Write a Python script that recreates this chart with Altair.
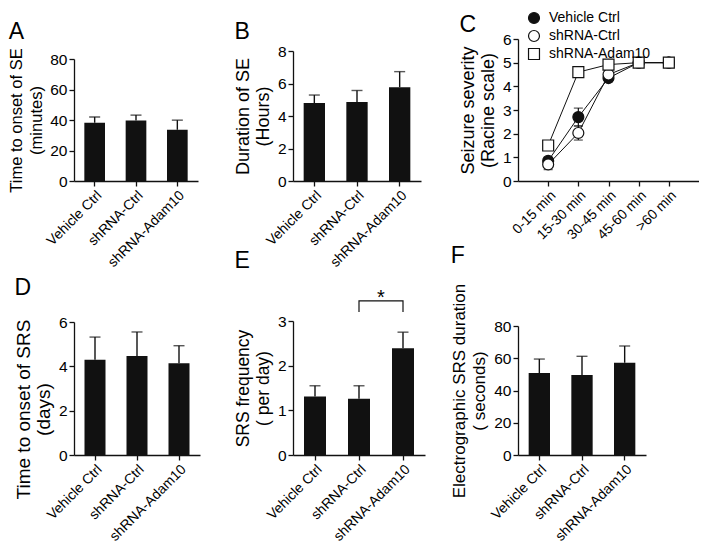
import altair as alt
import pandas as pd

# ---------------- data ----------------
groups = ["Vehicle Ctrl", "shRNA-Ctrl", "shRNA-Adam10"]

onset_se_mean = [38.2, 39.7, 33.6]
onset_se_upper = [42.0, 43.2, 39.9]
duration_se_mean = [4.80, 4.86, 5.77]
duration_se_upper = [5.29, 5.57, 6.73]
onset_srs_mean = [4.30, 4.47, 4.14]
onset_srs_upper = [5.32, 5.55, 4.93]
srs_freq_mean = [1.31, 1.26, 2.39]
srs_freq_upper = [1.55, 1.55, 2.75]
srs_dur_mean = [50.8, 49.6, 57.2]
srs_dur_upper = [59.5, 61.2, 67.6]

time_bins = ["0-15 min", "15-30 min", "30-45 min", "45-60 min", ">60 min"]
sev_vehicle = [0.85, 2.70, 4.35, 5.0, 5.0]
sev_vehicle_sem = [0.15, 0.38, 0.15, 0.0, 0.0]
sev_shctrl = [0.70, 2.03, 4.50, 5.0, 5.0]
sev_shctrl_sem = [0.22, 0.30, 0.12, 0.0, 0.0]
sev_adam = [1.50, 4.60, 4.92, 5.0, 5.0]
sev_adam_sem = [0.15, 0.10, 0.08, 0.0, 0.0]

bracket_groups = ["shRNA-Ctrl", "shRNA-Ctrl", "shRNA-Adam10", "shRNA-Adam10"]
bracket_y = [3.20, 3.45, 3.45, 3.20]
star_y = [3.37]

FONT = "Liberation Sans"
INK = "#111111"


def letter(txt, offset):
    return alt.TitleParams(txt, anchor="start", frame="bounds", fontSize=23,
                           fontWeight="normal", offset=offset, baseline="alphabetic",
                           color="black", font=FONT)


def bar_panel(let, mean, upper, ticks, title, w, h, top_off, t_off, tfs,
              title_y=None, extra=None):
    df = pd.DataFrame({"g": groups, "m": mean, "u": upper})
    xs = alt.X("g:N", sort=groups,
               scale=alt.Scale(domain=groups, paddingInner=0.5, paddingOuter=0.25),
               axis=alt.Axis(title=None, labelAngle=-45))
    yax = dict(values=ticks, tickCount=len(ticks), title=title, labelOverlap=False,
               titleFontSize=tfs)
    if title_y is not None:
        yax["titleY"] = title_y
    ys = alt.Y("m:Q",
               scale=alt.Scale(domain=[ticks[0], ticks[-1]], range=[h, top_off],
                               nice=False, zero=True),
               axis=alt.Axis(**yax))
    base = alt.Chart(df)
    bars = base.mark_bar(color=INK).encode(x=xs, y=ys)
    err = base.mark_rule(color=INK, strokeWidth=1.4).encode(
        x=alt.X("g:N", sort=groups), y="m:Q", y2="u:Q")
    cap = base.mark_tick(color=INK, size=11, thickness=1.4).encode(
        x=alt.X("g:N", sort=groups), y="u:Q")
    layers = [err, cap, bars]
    if extra is not None:
        layers += extra
    return alt.layer(*layers).properties(width=w, height=h, title=letter(let, t_off))


# ---------- panel C ----------
rows = []
for gname, vals, sems in [(groups[0], sev_vehicle, sev_vehicle_sem),
                          (groups[1], sev_shctrl, sev_shctrl_sem),
                          (groups[2], sev_adam, sev_adam_sem)]:
    for t, v, s in zip(time_bins, vals, sems):
        rows.append({"grp": gname, "t": t, "v": v, "lo": v - s, "hi": v + s, "s": s})
sev = pd.DataFrame(rows)

sev_ticks = [0, 1, 2, 3, 4, 5, 6]
xc = alt.X("t:N", sort=time_bins,
           scale=alt.Scale(type="point", padding=1, domain=time_bins),
           axis=alt.Axis(title=None, labelAngle=-45))
yc = alt.Y("v:Q", scale=alt.Scale(domain=[0, 6], nice=False),
           axis=alt.Axis(values=sev_ticks, tickCount=len(sev_ticks), labelOverlap=False,
                         titleFontSize=18,
                         title=["Seizure severity", "(Racine scale)"]))
cbase = alt.Chart(sev)
c_lines = cbase.mark_line(color=INK, strokeWidth=1).encode(x=xc, y=yc, detail="grp:N")
c_err = cbase.transform_filter("datum.s > 0").mark_rule(color=INK, strokeWidth=1.2).encode(
    x=alt.X("t:N", sort=time_bins), y="lo:Q", y2="hi:Q")
c_cap_lo = cbase.transform_filter("datum.s > 0").mark_tick(color=INK, size=9, thickness=1.2).encode(
    x=alt.X("t:N", sort=time_bins), y="lo:Q")
c_cap_hi = cbase.transform_filter("datum.s > 0").mark_tick(color=INK, size=9, thickness=1.2).encode(
    x=alt.X("t:N", sort=time_bins), y="hi:Q")
leg = alt.Legend(title=None, orient="none", legendX=453, legendY=-28, labelFontSize=14,
                 labelFont=FONT, labelColor="black", symbolSize=120, symbolStrokeColor=INK,
                 symbolStrokeWidth=1.2, rowPadding=2, padding=0, labelOffset=8)
c_pts = cbase.mark_point(filled=True, size=120, strokeWidth=1.2, opacity=1).encode(
    x=alt.X("t:N", sort=time_bins), y="v:Q",
    shape=alt.Shape("grp:N", scale=alt.Scale(domain=groups, range=["circle", "circle", "square"]), legend=leg),
    fill=alt.Fill("grp:N", scale=alt.Scale(domain=groups, range=[INK, "white", "white"]), legend=leg),
    stroke=alt.Stroke("grp:N", scale=alt.Scale(domain=groups, range=[INK, INK, INK]), legend=leg),
)
panel_c = alt.layer(c_lines, c_err, c_cap_lo, c_cap_hi, c_pts).properties(
    width=181, height=142, title=letter("C", -23))

# ---------- panel E extras ----------
br = pd.DataFrame({"g": bracket_groups, "y": bracket_y, "k": [0, 1, 2, 3]})
bracket = alt.Chart(br).mark_line(color=INK, strokeWidth=1.2).encode(
    x=alt.X("g:N", sort=groups), y="y:Q", order="k:Q")
star = alt.Chart(pd.DataFrame({"g": ["shRNA-Ctrl"], "y": star_y, "lab": ["*"]})).mark_text(
    fontSize=20, dx=22, baseline="alphabetic", color="black", font=FONT).encode(
    x=alt.X("g:N", sort=groups), y="y:Q", text="lab:N")

panel_a = bar_panel("A", onset_se_mean, onset_se_upper, [0, 20, 40, 60, 80],
                    ["Time to onset of SE", "(minutes)"], 124, 142, 20, -23, 16.5)
panel_b = bar_panel("B", duration_se_mean, duration_se_upper, [0, 2, 4, 6, 8],
                    ["Duration of SE", "(Hours)"], 128, 142, 12, -23, 18)
panel_d = bar_panel("D", onset_srs_mean, onset_srs_upper, [0, 2, 4, 6],
                    ["Time to onset of SRS", "(days)"], 126, 134, 1, -3, 19, title_y=88)
panel_e = bar_panel("E", srs_freq_mean, srs_freq_upper, [0, 1, 2, 3],
                    ["SRS frequency", "( per day)"], 132, 134, 0, -3, 17.5,
                    extra=[bracket, star])
panel_f = bar_panel("F", srs_dur_mean, srs_dur_upper, [0, 20, 40, 60, 80],
                    ["Electrographic SRS duration", "( seconds)"], 128, 134, 5, -3, 17)

chart = alt.concat(panel_a, panel_b, panel_c, panel_d, panel_e, panel_f,
                   columns=3, bounds="flush", spacing={"row": 140, "column": 93}
                   ).properties(padding={"top": 3, "left": 0, "right": 0, "bottom": 0})

chart = chart.configure(font=FONT).configure_view(stroke=None).configure_axis(
    labelFont=FONT, titleFont=FONT, labelColor="black", titleColor="black",
    domainColor=INK, tickColor=INK, domainWidth=1.3, tickWidth=1.3, tickSize=5,
    grid=False, titleFontWeight="normal", titleFontSize=17, titleLineHeight=20,
    labelFontSize=15.5, labelPadding=2, titlePadding=5, labelOverlap=False,
).configure_axisX(labelFontSize=14, labelAngle=-45).configure_legend(
    labelFontSize=14, labelFont=FONT, symbolStrokeColor=INK, symbolStrokeWidth=1.2,
    symbolSize=120, labelColor="black",
)

chart.save("out.html", embed_options={"renderer": "svg", "actions": False})
